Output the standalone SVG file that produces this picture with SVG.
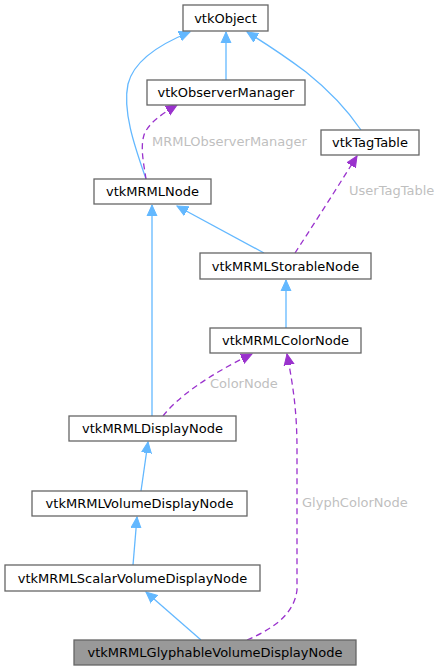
<svg xmlns="http://www.w3.org/2000/svg" width="441" height="671" viewBox="0 0 441 671">
<style>
.box{fill:#ffffff;stroke:#666666;stroke-width:1.3}
.cur{fill:#999999;stroke:#666666;stroke-width:1.3}
.t{font-family:"DejaVu Sans",sans-serif;font-size:13px;fill:#000000;text-anchor:middle}
.lbl{font-family:"DejaVu Sans",sans-serif;font-size:13px;fill:#bfbfbf}
.inh{fill:none;stroke:#63b8ff;stroke-width:1.3}
.use{fill:none;stroke:#9a32cd;stroke-width:1.3;stroke-dasharray:6,4}
</style>
<defs>
<marker id="ab" markerUnits="userSpaceOnUse" markerWidth="12" markerHeight="12" refX="11" refY="5" orient="auto" viewBox="0 0 12 10">
<path d="M0,0 L11,5 L0,10 Z" fill="#63b8ff" stroke="#63b8ff" stroke-width="1"/>
</marker>
<marker id="ap" markerUnits="userSpaceOnUse" markerWidth="12" markerHeight="12" refX="11" refY="5" orient="auto" viewBox="0 0 12 10">
<path d="M0,0 L11,5 L0,10 Z" fill="#9a32cd" stroke="#9a32cd" stroke-width="1"/>
</marker>
</defs>
<g id="edges">
<path class="inh" d="M226,80 L226,32" marker-end="url(#ab)"/>
<path class="inh" d="M146,179 C136,150 122,112 128,84 C134,60 160,44 190,32" marker-end="url(#ab)"/>
<path class="inh" d="M361,130 C346,108 326,88 306,72 C286,57 268,45 247,32" marker-end="url(#ab)"/>
<path class="use" d="M146,179 C144,165 140,148 144,135 C148,124 160,115 177,105" marker-end="url(#ap)"/>
<path class="inh" d="M264,253 L177,206" marker-end="url(#ab)"/>
<path class="use" d="M295,253 C308,233 332,196 357,156" marker-end="url(#ap)"/>
<path class="inh" d="M286,328 L286,280" marker-end="url(#ab)"/>
<path class="inh" d="M152,416 L152,205" marker-end="url(#ab)"/>
<path class="use" d="M163,416 C176,399 206,376 252,354" marker-end="url(#ap)"/>
<path class="inh" d="M141,491 L148,442" marker-end="url(#ab)"/>
<path class="inh" d="M133,565 L137,517" marker-end="url(#ab)"/>
<path class="inh" d="M201,640 L146,592" marker-end="url(#ab)"/>
<path class="use" d="M247,640 C270,630 294,616 297,590 L297,450 C297,415 294,390 287,354" marker-end="url(#ap)"/>
<text class="lbl" x="152" y="146">MRMLObserverManager</text>
<text class="lbl" x="349" y="195">UserTagTable</text>
<text class="lbl" x="210" y="388">ColorNode</text>
<text class="lbl" x="302" y="507">GlyphColorNode</text>
</g>
<g id="vtkObject"><rect class="box" x="183" y="5" width="85" height="26"/><text class="t" x="225.5" y="22.5">vtkObject</text></g>
<g id="vtkObserverManager"><rect class="box" x="147" y="80" width="158" height="25"/><text class="t" x="226" y="97">vtkObserverManager</text></g>
<g id="vtkTagTable"><rect class="box" x="321" y="130" width="98" height="25"/><text class="t" x="370" y="147">vtkTagTable</text></g>
<g id="vtkMRMLNode"><rect class="box" x="94" y="179" width="117" height="25"/><text class="t" x="152.5" y="196">vtkMRMLNode</text></g>
<g id="vtkMRMLStorableNode"><rect class="box" x="200" y="253" width="171" height="26"/><text class="t" x="285.5" y="270.5">vtkMRMLStorableNode</text></g>
<g id="vtkMRMLColorNode"><rect class="box" x="210" y="328" width="151" height="25"/><text class="t" x="285.5" y="345">vtkMRMLColorNode</text></g>
<g id="vtkMRMLDisplayNode"><rect class="box" x="69" y="416" width="167" height="25"/><text class="t" x="152.5" y="433">vtkMRMLDisplayNode</text></g>
<g id="vtkMRMLVolumeDisplayNode"><rect class="box" x="32" y="491" width="215" height="25"/><text class="t" x="139.5" y="508">vtkMRMLVolumeDisplayNode</text></g>
<g id="vtkMRMLScalarVolumeDisplayNode"><rect class="box" x="5" y="565" width="255" height="26"/><text class="t" x="132.5" y="582.5">vtkMRMLScalarVolumeDisplayNode</text></g>
<g id="vtkMRMLGlyphableVolumeDisplayNode"><rect class="cur" x="74" y="640" width="282" height="25"/><text class="t" x="215" y="657">vtkMRMLGlyphableVolumeDisplayNode</text></g>
</svg>
